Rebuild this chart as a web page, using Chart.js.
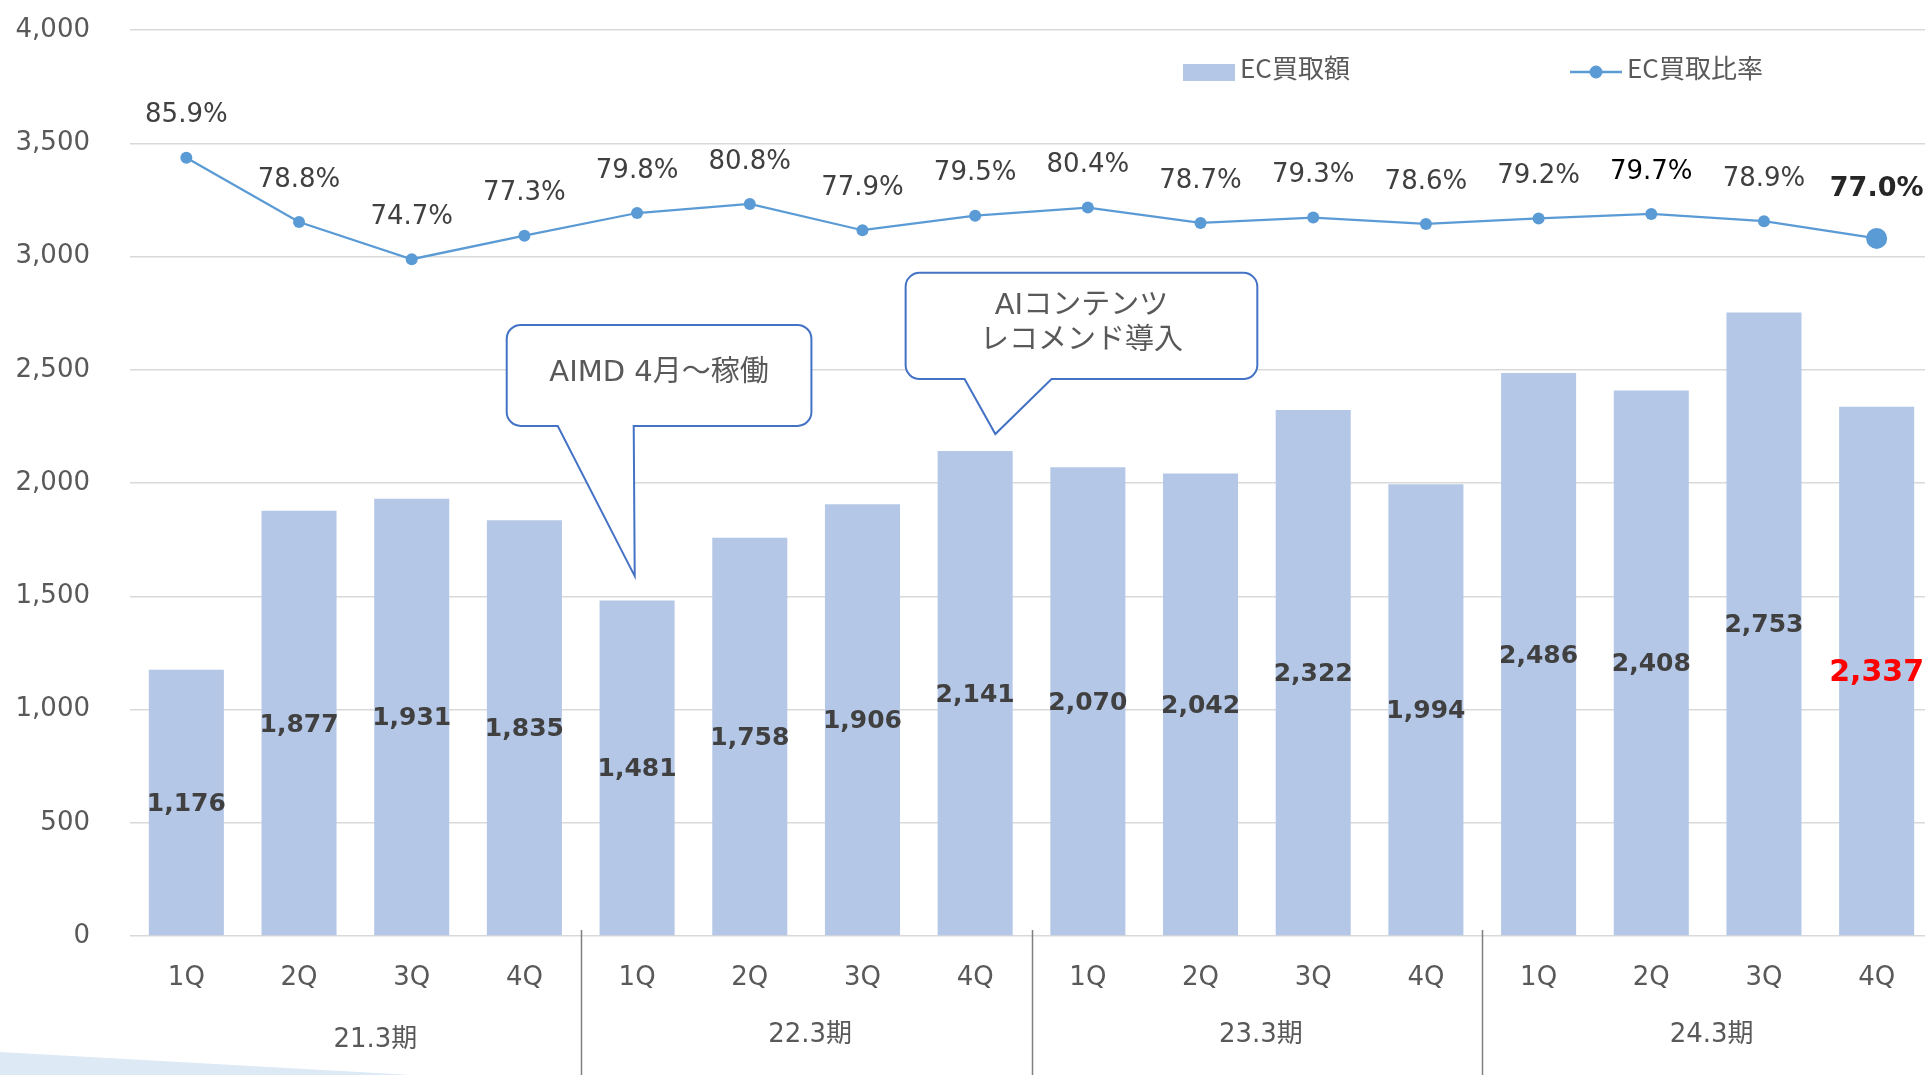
<!DOCTYPE html>
<html>
<head>
<meta charset="utf-8">
<script src="https://cdn.jsdelivr.net/npm/chart.js@4.4.0/dist/chart.umd.min.js"></script>
<style>
  html, body { margin: 0; padding: 0; background: #fff; overflow: hidden; }
  #chart { position: absolute; left: 0; top: 0; width: 1936px; height: 1075px; }
</style>
</head>
<body>
<canvas id="chart" width="1936" height="1075"></canvas>
<script>
// quarters and fiscal periods
const quarters = ['1Q', '2Q', '3Q', '4Q', '1Q', '2Q', '3Q', '4Q', '1Q', '2Q', '3Q', '4Q', '1Q', '2Q', '3Q', '4Q'];
const periods = ['21.3期', '22.3期', '23.3期', '24.3期'];
// EC purchase amount (bars) and EC purchase ratio in % (line)
const purchaseAmount = [1176, 1877, 1931, 1835, 1481, 1758, 1906, 2141, 2070, 2042, 2322, 1994, 2486, 2408, 2753, 2337];
const purchaseRatio = [85.9, 78.8, 74.7, 77.3, 79.8, 80.8, 77.9, 79.5, 80.4, 78.7, 79.3, 78.6, 79.2, 79.7, 78.9, 77.0];
const amountMax = 4000;
const amountStep = 500;

// callouts, placed in category index / amount units
const callouts = [
    { lines: ['AIMD 4月～稼働'], x0: 2.843, x1: 5.547, top: 2698, bottom: 2252, baseL: 3.296, baseR: 3.970, tipX: 3.979, tipV: 1589 },
    { lines: ['AIコンテンツ', 'レコメンド導入'], x0: 6.383, x1: 9.504, top: 2928, bottom: 2459, baseL: 6.906, baseR: 7.678, tipX: 7.179, tipV: 2216 }
];

const NUM_FONT = '"DejaVu Sans", "Noto Sans CJK JP", sans-serif';
const JP_FONT = '"Noto Sans CJK JP", "DejaVu Sans", sans-serif';
const BAR_COLOR = '#b4c7e7';
const LINE_COLOR = '#5b9bd5';
const AXIS_TEXT = '#595959';

const fmt = v => v.toLocaleString('en-US');

const decorPlugin = {
    id: 'decor',
    beforeDraw(chart) {
        const ctx = chart.ctx;
        ctx.save();
        ctx.fillStyle = '#dde9f5';
        ctx.beginPath();
        ctx.moveTo(0, 1052);
        ctx.lineTo(412, 1075);
        ctx.lineTo(0, 1075);
        ctx.closePath();
        ctx.fill();
        ctx.restore();
    }
};

const labelsPlugin = {
    id: 'labels',
    afterDatasetsDraw(chart) {
        const ctx = chart.ctx;
        const xs = chart.scales.x;
        const ys = chart.scales.y;
        const last = purchaseAmount.length - 1;
        ctx.save();

        // bar values, centered in each bar
        chart.getDatasetMeta(0).data.forEach((bar, i) => {
            const isLast = i === last;
            ctx.font = (isLast ? 'bold 30px ' : 'bold 25px ') + NUM_FONT;
            ctx.fillStyle = isLast ? '#ff0000' : '#404040';
            ctx.textAlign = 'center';
            ctx.textBaseline = 'middle';
            ctx.fillText(fmt(purchaseAmount[i]), bar.x, (bar.y + bar.base) / 2 + 2);
        });

        // ratio labels above the points
        chart.getDatasetMeta(1).data.forEach((pt, i) => {
            const isLast = i === last;
            ctx.font = (isLast ? 'bold 27px ' : '26px ') + NUM_FONT;
            ctx.fillStyle = isLast ? '#262626' : (i === 13 ? '#000000' : '#404040');
            ctx.textAlign = 'center';
            ctx.textBaseline = 'middle';
            ctx.fillText(purchaseRatio[i].toFixed(1) + '%', pt.x, pt.y - (isLast ? 49 : 42));
        });

        // callouts
        callouts.forEach(c => {
            const l = xs.getPixelForValue(c.x0), r = xs.getPixelForValue(c.x1);
            const t = ys.getPixelForValue(c.top), b = ys.getPixelForValue(c.bottom);
            const bl = xs.getPixelForValue(c.baseL), br = xs.getPixelForValue(c.baseR);
            const tx = xs.getPixelForValue(c.tipX), ty = ys.getPixelForValue(c.tipV);
            const rad = 14;
            ctx.beginPath();
            ctx.moveTo(l + rad, t);
            ctx.lineTo(r - rad, t);
            ctx.arcTo(r, t, r, t + rad, rad);
            ctx.lineTo(r, b - rad);
            ctx.arcTo(r, b, r - rad, b, rad);
            ctx.lineTo(br, b);
            ctx.lineTo(tx, ty);
            ctx.lineTo(bl, b);
            ctx.lineTo(l + rad, b);
            ctx.arcTo(l, b, l, b - rad, rad);
            ctx.lineTo(l, t + rad);
            ctx.arcTo(l, t, l + rad, t, rad);
            ctx.closePath();
            ctx.fillStyle = '#ffffff';
            ctx.fill();
            ctx.strokeStyle = '#4472c4';
            ctx.lineWidth = 2;
            ctx.stroke();

            ctx.font = '29px ' + NUM_FONT;
            ctx.fillStyle = AXIS_TEXT;
            ctx.textAlign = 'center';
            ctx.textBaseline = 'middle';
            const lh = 35;
            const cy = (t + b) / 2 - (c.lines.length - 1) * lh / 2 - 2;
            c.lines.forEach((s, k) => ctx.fillText(s, (l + r) / 2, cy + k * lh));
        });
        ctx.restore();
    },
    afterDraw(chart) {
        const ctx = chart.ctx;
        const xs = chart.scales.x;
        ctx.save();

        // period dividers and period labels
        ctx.strokeStyle = '#7f7f7f';
        ctx.lineWidth = 1.5;
        for (let g = 1; g < periods.length; g++) {
            const x = Math.round(xs.getPixelForValue(g * 4 - 0.5)) + 0.5;
            ctx.beginPath();
            ctx.moveTo(x, chart.chartArea.bottom - 6);
            ctx.lineTo(x, chart.height);
            ctx.stroke();
        }
        ctx.font = '26px ' + NUM_FONT;
        ctx.fillStyle = AXIS_TEXT;
        ctx.textAlign = 'center';
        ctx.textBaseline = 'middle';
        periods.forEach((p, g) => {
            const first = g === 0;
            ctx.fillText(p, xs.getPixelForValue(g * 4 + 1.5) + (first ? 20 : 4), first ? 1040 : 1035);
        });

        // legend
        const ds = chart.data.datasets;
        ctx.fillStyle = BAR_COLOR;
        ctx.fillRect(1183, 64, 52, 17);
        ctx.font = '26px ' + JP_FONT;
        ctx.fillStyle = AXIS_TEXT;
        ctx.textAlign = 'left';
        ctx.fillText(ds[0].label, 1240, 68);
        ctx.strokeStyle = LINE_COLOR;
        ctx.lineWidth = 2.5;
        ctx.beginPath();
        ctx.moveTo(1570, 72);
        ctx.lineTo(1622, 72);
        ctx.stroke();
        ctx.fillStyle = LINE_COLOR;
        ctx.beginPath();
        ctx.arc(1596, 72, 6.5, 0, Math.PI * 2);
        ctx.fill();
        ctx.fillStyle = AXIS_TEXT;
        ctx.fillText(ds[1].label, 1627, 68);
        ctx.restore();
    }
};

new Chart(document.getElementById('chart'), {
    data: {
        labels: quarters,
        datasets: [
            {
                type: 'bar',
                label: 'EC買取額',
                data: purchaseAmount,
                backgroundColor: BAR_COLOR,
                barPercentage: 0.666,
                categoryPercentage: 1.0,
                yAxisID: 'y',
                order: 1
            },
            {
                type: 'line',
                label: 'EC買取比率',
                data: purchaseRatio,
                borderColor: LINE_COLOR,
                backgroundColor: LINE_COLOR,
                borderWidth: 2.25,
                pointRadius: ctx => ctx.dataIndex === purchaseRatio.length - 1 ? 10.5 : 6,
                pointBorderWidth: 0,
                tension: 0,
                yAxisID: 'y1',
                order: 0
            }
        ]
    },
    options: {
        responsive: false,
        animation: false,
        layout: { autoPadding: false, padding: { top: 30, right: 3, bottom: 0, left: 0 } },
        plugins: {
            legend: { display: false },
            tooltip: { enabled: false }
        },
        scales: {
            x: {
                grid: { display: false },
                border: { display: false },
                ticks: {
                    font: { family: NUM_FONT, size: 26 },
                    color: AXIS_TEXT,
                    padding: 19,
                    maxRotation: 0,
                    autoSkip: false
                },
                afterFit(scale) {
                    scale.height = 139;
                    scale.paddingLeft = 0;
                    scale.paddingRight = 0;
                }
            },
            y: {
                min: 0,
                max: amountMax,
                grid: { color: '#d9d9d9', lineWidth: 1.5, drawTicks: false },
                border: { display: false },
                ticks: {
                    stepSize: amountStep,
                    font: { family: NUM_FONT, size: 26 },
                    color: AXIS_TEXT,
                    padding: 40,
                    callback: v => fmt(v)
                },
                afterFit(scale) {
                    scale.width = 130;
                    scale.paddingTop = 0;
                    scale.paddingBottom = 0;
                }
            },
            y1: {
                display: false,
                min: 0,
                max: 100
            }
        }
    },
    plugins: [decorPlugin, labelsPlugin]
});
</script>
</body>
</html>
